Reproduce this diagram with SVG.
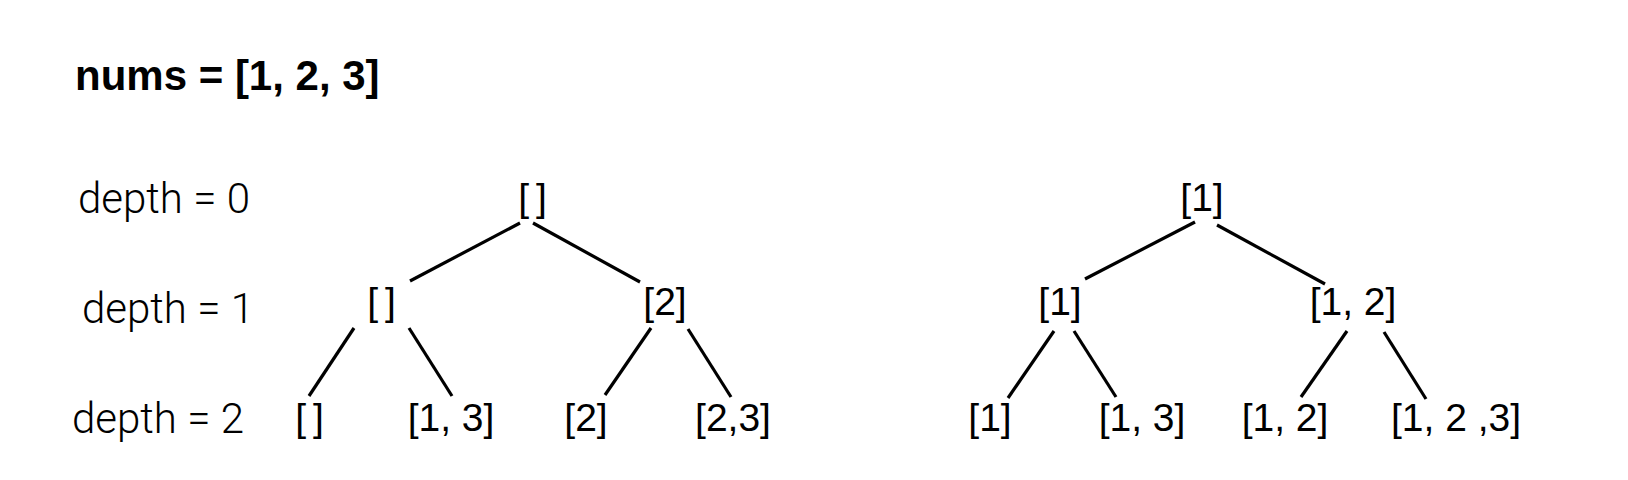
<svg xmlns="http://www.w3.org/2000/svg" width="1628" height="480" viewBox="0 0 1628 480">
<style>
.title{font-family:"Liberation Sans",Arial,sans-serif;font-weight:bold;font-size:42px;fill:#000}
.lbl{font-family:Roboto,"Liberation Sans",sans-serif;font-weight:300;font-size:42px;fill:#000}
.node{font-family:"Liberation Sans",Arial,sans-serif;font-size:39px;fill:#000;text-anchor:middle}
.empty{letter-spacing:7px}
.edge{stroke:#000;stroke-width:3.2;fill:none}
</style>
<rect width="1628" height="480" fill="#fff"/>
<text class="title" x="75" y="90">nums = [1, 2, 3]</text>
<g id="labels">
<text class="lbl" x="78" y="213">depth = 0</text>
<text class="lbl" x="82" y="323">depth = 1</text>
<text class="lbl" x="72" y="433">depth = 2</text>
</g>
<g id="connectors">
<line class="edge" x1="520" y1="223" x2="410" y2="281"/>
<line class="edge" x1="533" y1="223" x2="640" y2="282"/>
<line class="edge" x1="354" y1="328" x2="309" y2="396"/>
<line class="edge" x1="409" y1="328" x2="452" y2="396"/>
<line class="edge" x1="651" y1="328" x2="605" y2="395"/>
<line class="edge" x1="688" y1="329" x2="731" y2="397"/>
<line class="edge" x1="1195" y1="222" x2="1085" y2="279"/>
<line class="edge" x1="1217" y1="225" x2="1325" y2="284"/>
<line class="edge" x1="1054" y1="331" x2="1008" y2="398"/>
<line class="edge" x1="1074" y1="331" x2="1116" y2="397"/>
<line class="edge" x1="1347" y1="331" x2="1301" y2="397"/>
<line class="edge" x1="1384" y1="332" x2="1426" y2="399"/>
</g>
<g id="n_root_a"><text class="node empty" x="536" y="211">[]</text></g>
<g id="n_a_l"><text class="node empty" x="385" y="315">[]</text></g>
<g id="n_a_r"><text class="node" x="665" y="315">[2]</text></g>
<g id="n_a_ll"><text class="node empty" x="313" y="431">[]</text></g>
<g id="n_a_lr"><text class="node" x="451" y="431">[1, 3]</text></g>
<g id="n_a_rl"><text class="node" x="586" y="431">[2]</text></g>
<g id="n_a_rr"><text class="node" x="733" y="431">[2,3]</text></g>
<g id="n_root_b"><text class="node" x="1202" y="211">[1]</text></g>
<g id="n_b_l"><text class="node" x="1060" y="315">[1]</text></g>
<g id="n_b_r"><text class="node" x="1353" y="315">[1, 2]</text></g>
<g id="n_b_ll"><text class="node" x="990" y="431">[1]</text></g>
<g id="n_b_lr"><text class="node" x="1142" y="431">[1, 3]</text></g>
<g id="n_b_rl"><text class="node" x="1285" y="431">[1, 2]</text></g>
<g id="n_b_rr"><text class="node" x="1456" y="431">[1, 2 ,3]</text></g>
</svg>
